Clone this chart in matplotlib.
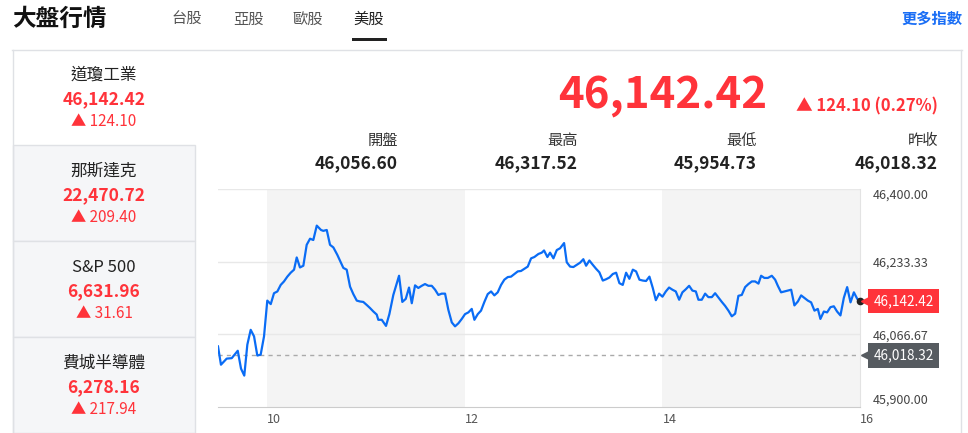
"""
Recreate the US market overview card (Dow Jones intraday) with matplotlib
"""
import matplotlib
matplotlib.use('Agg')
import matplotlib.pyplot as plt
import matplotlib.transforms as mtransforms
from matplotlib.patches import Rectangle

plt.rcParams['font.family'] = ['Noto Sans CJK TC', 'DejaVu Sans']

# ---- data ----
tabs = ['台股', '亞股', '歐股', '美股']
index_names = ['道瓊工業', '那斯達克', 'S&P 500', '費城半導體']
index_values = ['46,142.42', '22,470.72', '6,631.96', '6,278.16']
index_changes = ['124.10', '209.40', '31.61', '217.94']

last_price = 46142.42
change = 124.10
change_pct = 0.27
stat_labels = ['開盤', '最高', '最低', '昨收']
stat_values = [46056.60, 46317.52, 45954.73, 46018.32]
prev_close = 46018.32

y_ticks = [45900.00, 46066.67, 46233.33, 46400.00]
x_ticks = [10, 12, 14, 16]

# intraday time (hours) and index level
times = [9.500, 9.530, 9.588, 9.639, 9.700, 9.733, 9.766, 9.797, 9.831, 9.865,
         9.898, 9.932, 9.966, 9.999, 10.034, 10.067, 10.101, 10.135, 10.168, 10.202,
         10.236, 10.270, 10.297, 10.330, 10.364, 10.398, 10.432, 10.465, 10.500, 10.543,
         10.566, 10.601, 10.634, 10.668, 10.708, 10.746, 10.769, 10.803, 10.837, 10.870,
         10.905, 10.938, 10.971, 11.006, 11.039, 11.073, 11.107, 11.123, 11.158, 11.201,
         11.235, 11.275, 11.333, 11.366, 11.401, 11.434, 11.462, 11.495, 11.528, 11.563,
         11.596, 11.630, 11.664, 11.698, 11.731, 11.765, 11.799, 11.832, 11.867, 11.900,
         11.934, 11.968, 12.001, 12.035, 12.069, 12.096, 12.130, 12.163, 12.197, 12.231,
         12.265, 12.298, 12.332, 12.366, 12.399, 12.434, 12.467, 12.501, 12.535, 12.568,
         12.602, 12.636, 12.670, 12.703, 12.744, 12.778, 12.801, 12.835, 12.862, 12.896,
         12.930, 12.963, 13.004, 13.031, 13.065, 13.098, 13.133, 13.166, 13.199, 13.227,
         13.260, 13.295, 13.328, 13.361, 13.396, 13.429, 13.463, 13.497, 13.531, 13.564,
         13.598, 13.632, 13.665, 13.700, 13.733, 13.767, 13.801, 13.834, 13.868, 13.902,
         13.933, 13.966, 14.000, 14.034, 14.067, 14.101, 14.135, 14.169, 14.202, 14.236,
         14.270, 14.303, 14.338, 14.364, 14.398, 14.432, 14.465, 14.500, 14.533, 14.567,
         14.601, 14.634, 14.668, 14.702, 14.736, 14.769, 14.803, 14.837, 14.870, 14.905,
         14.938, 14.972, 14.999, 15.032, 15.067, 15.107, 15.141, 15.168, 15.201, 15.235,
         15.269, 15.303, 15.336, 15.371, 15.404, 15.438, 15.472, 15.505, 15.539, 15.573,
         15.599, 15.634, 15.667, 15.701, 15.735, 15.768, 15.802, 15.836, 15.870, 15.904,
         15.938, 15.972, 16.000]
prices = [46039, 45997, 46011, 46012, 46029, 45988, 45972, 46043, 46077, 46062,
          46018, 46020, 46062, 46144, 46136, 46161, 46165, 46180, 46188, 46199,
          46208, 46215, 46243, 46220, 46224, 46272, 46286, 46283, 46316, 46306,
          46304, 46306, 46272, 46266, 46249, 46230, 46219, 46215, 46176, 46159,
          46144, 46142, 46141, 46134, 46127, 46119, 46112, 46100, 46100, 46086,
          46113, 46157, 46201, 46141, 46148, 46174, 46138, 46179, 46173, 46178,
          46182, 46178, 46178, 46169, 46157, 46160, 46160, 46123, 46094, 46085,
          46092, 46102, 46113, 46117, 46125, 46100, 46113, 46121, 46141, 46159,
          46165, 46156, 46163, 46180, 46192, 46198, 46199, 46205, 46211, 46212,
          46217, 46222, 46241, 46244, 46251, 46254, 46259, 46244, 46254, 46241,
          46260, 46264, 46276, 46232, 46222, 46221, 46226, 46231, 46239, 46224,
          46236, 46226, 46217, 46209, 46190, 46193, 46197, 46205, 46208, 46184,
          46180, 46208, 46194, 46215, 46211, 46192, 46190, 46189, 46199, 46173,
          46145, 46160, 46153, 46165, 46174, 46169, 46165, 46146, 46163, 46170,
          46178, 46167, 46165, 46146, 46146, 46160, 46152, 46152, 46161, 46151,
          46141, 46132, 46121, 46108, 46114, 46155, 46157, 46175, 46182, 46188,
          46188, 46183, 46201, 46196, 46196, 46201, 46192, 46178, 46163, 46165,
          46167, 46169, 46133, 46142, 46156, 46150, 46144, 46140, 46121, 46125,
          46102, 46119, 46117, 46129, 46131, 46119, 46110, 46150, 46175, 46140,
          46163, 46148, 46142.42]

RED = '#ff333a'
BLUE = '#0a6cf5'
BORDER = '#dfe1e5'

W, H = 968, 433
fig = plt.figure(figsize=(W / 100, H / 100), dpi=100)

# background layer in pixel coordinates
bg = fig.add_axes([0, 0, 1, 1])
bg.set_xlim(0, W)
bg.set_ylim(H, 0)
bg.axis('off')

# header
bg.text(12, 19, '大盤行情', fontsize=17, fontweight='bold', color='#111', va='center', ha='left')
tab_x = [187, 248, 308, 369]
for i, t in enumerate(tabs):
    active = (t == '美股')
    bg.text(tab_x[i], 19, t, fontsize=11, ha='center', va='center',
            color='#222' if active else '#555')
bg.add_patch(Rectangle((352, 37.5), 35, 3, color='#222', lw=0))
bg.text(962, 19, '更多指數', fontsize=11, fontweight='bold', color='#1a6ef5', ha='right', va='center')
bg.plot([12, 962], [49.5, 49.5], color=BORDER, lw=1)

# left index list
cell_top = [49.5, 145, 241, 337]
cell_bot = [145, 241, 337, 433]
for i in range(4):
    if i > 0:
        bg.add_patch(Rectangle((12.5, cell_top[i]), 182.5, cell_bot[i] - cell_top[i],
                               facecolor='#f5f6f8', edgecolor=BORDER, lw=1))
    cy = cell_top[i] + 26
    bg.text(104, cy, index_names[i], fontsize=12, color='#222', ha='center', va='center')
    bg.text(104, cy + 24, index_values[i], fontsize=12.5, fontweight='bold', color=RED,
            ha='center', va='center')
    bg.text(104, cy + 46, '▲ ' + index_changes[i], fontsize=11, color=RED,
            ha='center', va='center')
bg.plot([12.5, 12.5], [49.5, 433], color=BORDER, lw=1)
bg.plot([960.5, 960.5], [49.5, 433], color=BORDER, lw=1)

# big quote
bg.text(767, 96, f'{last_price:,.2f}', fontsize=31.5, fontweight='bold', color=RED,
        ha='right', va='center')
bg.text(938, 106, f'▲ {change:.2f} ({change_pct:.2f}%)', fontsize=12, fontweight='bold',
        color=RED, ha='right', va='center')

stat_right = [398, 578, 757, 938]
for i in range(4):
    bg.text(stat_right[i], 140, stat_labels[i], fontsize=11, color='#333', ha='right', va='center')
    bg.text(stat_right[i], 163, f'{stat_values[i]:,.2f}', fontsize=12.5, fontweight='bold',
            color='#222', ha='right', va='center')

# intraday chart
ax = fig.add_axes([218 / W, 1 - 407 / H, (860 - 218) / W, (407 - 189) / H])
ax.set_xlim(9.5, 16)
ax.set_ylim(45900, 46400)
ax.axvspan(10, 12, color='#f4f4f4', lw=0, zorder=0)
ax.axvspan(14, 16, color='#f4f4f4', lw=0, zorder=0)
for yv in y_ticks[1:]:
    ax.axhline(yv, color='#e8e8e8', lw=1, zorder=1)
ax.axhline(prev_close, color='#aaaaaa', lw=1, ls=(0, (3, 3)), zorder=2)
ax.plot(times, prices, color=BLUE, lw=1.6, zorder=3)
ax.plot(times[-1], prices[-1], 'o', color='#222', ms=4.5, zorder=4, clip_on=False)

for s in ['top', 'left']:
    ax.spines[s].set_visible(False)
ax.spines['right'].set_color('#e3e3e3')
ax.spines['bottom'].set_color('#cccccc')

ax.yaxis.tick_right()
ax.set_yticks(y_ticks)
ax.set_yticklabels([f'{v:,.2f}' for v in y_ticks], fontsize=9, color='#444')
ax.tick_params(axis='y', length=0, pad=9)
ylabs = ax.get_yticklabels()
ylabs[0].set_va('bottom')
ylabs[-1].set_va('top')
ax.set_xticks(x_ticks)
ax.set_xticklabels([str(x) for x in x_ticks], fontsize=9, color='#555', ha='left')
ax.tick_params(axis='x', length=0, pad=4)

# price tags on the right edge
trans = mtransforms.blended_transform_factory(ax.transAxes, ax.transData)
for val, col in [(last_price, RED), (prev_close, '#565b60')]:
    ax.plot([1.013], [val], marker='<', color=col, ms=10, transform=trans, clip_on=False, zorder=5)
    ax.text(1.021, val, f'{val:,.2f}', transform=trans, fontsize=9.8, color='white',
            ha='left', va='center', zorder=6,
            bbox=dict(boxstyle='square,pad=0.38', facecolor=col, edgecolor='none'))

fig.savefig('out.png', dpi=100)
